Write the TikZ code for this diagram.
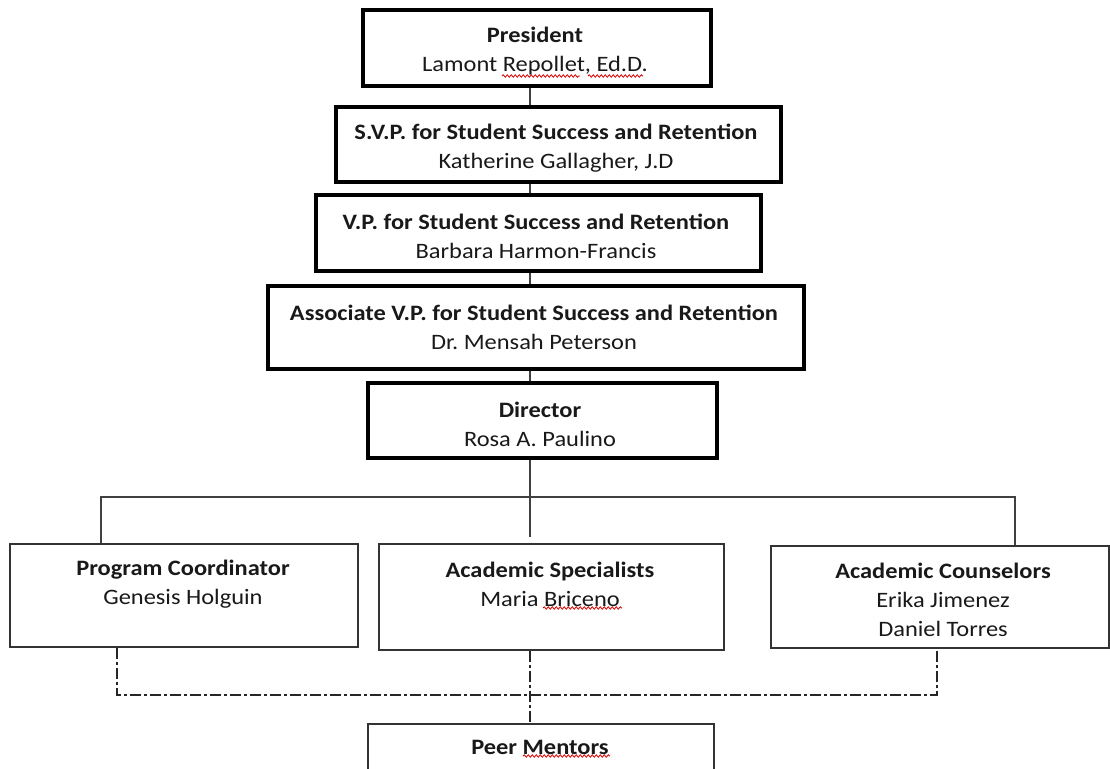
\documentclass[tikz,border=0pt]{standalone}
\usepackage{fontspec}
\setmainfont{Carlito}[FakeStretch=1.11]
\usetikzlibrary{decorations.pathmorphing}
\frenchspacing
\begin{document}
\begin{tikzpicture}[x=1pt,y=-1pt,
  thickbox/.style={draw=black, line width=4pt, inner sep=0pt, anchor=north west},
  thinbox/.style={draw=black!80, line width=1.6pt, inner sep=0pt, anchor=north west},
  lbl/.style={align=center, font=\fontsize{22}{29}\selectfont, inner sep=0pt, text=black!90},
  conn/.style={draw=black!75, line width=1.5pt},
  dd/.style={draw=black!85, line width=1.5pt, dash pattern=on 11pt off 3pt on 3pt off 3pt},
  squig/.style={draw=red!85!black, line width=0.8pt, decorate, decoration={snake, amplitude=1.2pt, segment length=4pt}}
]
\useasboundingbox (0,0) rectangle (1110,768);
\fill[white] (0,0) rectangle (1110,768);

% boxes
\node[thickbox, minimum width=348, minimum height=76] (pres) at (361,8) {};
\node[thickbox, minimum width=445, minimum height=75] (svp) at (334,105) {};
\node[thickbox, minimum width=445, minimum height=76] (vp) at (314,193) {};
\node[thickbox, minimum width=536, minimum height=83] (avp) at (266,284) {};
\node[thickbox, minimum width=349, minimum height=75] (dir) at (366,381) {};
\node[thinbox, minimum width=348, minimum height=103] (pc) at (9,543) {};
\node[thinbox, minimum width=345, minimum height=106] (as) at (378,543) {};
\node[thinbox, minimum width=338, minimum height=102] (ac) at (770,545) {};
\node[thinbox, minimum width=346, minimum height=80] (peer) at (367,723) {};

% texts
\node[lbl] (prest) at (535,51) {\textbf{President}\\Lamont Repollet, Ed.D.};
\node[lbl] (svpt) at (556,148) {\textbf{S.V.P. for Student Success and Retention}\\Katherine Gallagher, J.D};
\node[lbl] (vpt) at (536,236.5) {\textbf{V.P. for Student Success and Retention}\\Barbara Harmon-Francis};
\node[lbl] (avpt) at (534,327.5) {\textbf{Associate V.P. for Student Success and Retention}\\Dr. Mensah Peterson};
\node[lbl] (dirt) at (540,424) {\textbf{Director}\\Rosa A. Paulino};
\node[lbl] (pct) at (183,584.5) {\textbf{Program Coordinator}\\Genesis Holguin};
\node[lbl] (ast) at (550,584.5) {\textbf{Academic Specialists}\\Maria Briceno};
\node[lbl] (act) at (943,600) {\textbf{Academic Counselors}\\Erika Jimenez\\Daniel Torres};
\node[lbl] (peert) at (540,747) {\textbf{Peer Mentors}};

% connector points
\coordinate (spine) at (530,0);
\coordinate (busC) at (530,497);
\coordinate (busL) at (101,497);
\coordinate (busR) at (1015,497);
\coordinate (ddL) at (117,695);
\coordinate (ddR) at (937,695);

% solid connectors
\draw[conn] (pres.south -| spine) -- (svp.north -| spine);
\draw[conn] (svp.south -| spine) -- (vp.north -| spine);
\draw[conn] (vp.south -| spine) -- (avp.north -| spine);
\draw[conn] (avp.south -| spine) -- (dir.north -| spine);
\draw[conn] (dir.south -| spine) -- (busC);
\draw[conn] (pc.north -| busL) -- (busL) -- (busR) -- (ac.north -| busR);
\draw[conn, shorten >=6pt] (busC) -- (as.north -| spine);

% dash-dot connectors
\draw[dd] (pc.south -| ddL) -- (ddL) -- (ddR) -- (ac.south -| ddR);
\draw[dd] (as.south -| spine) -- (peer.north -| spine);

% spell-check squiggles
\draw[squig] (502,76) -- (580,76);
\draw[squig] (588,76) -- (643,76);
\draw[squig] (543,608) -- (622,608);
\draw[squig] (523,756) -- (610,756);
\end{tikzpicture}
\end{document}
